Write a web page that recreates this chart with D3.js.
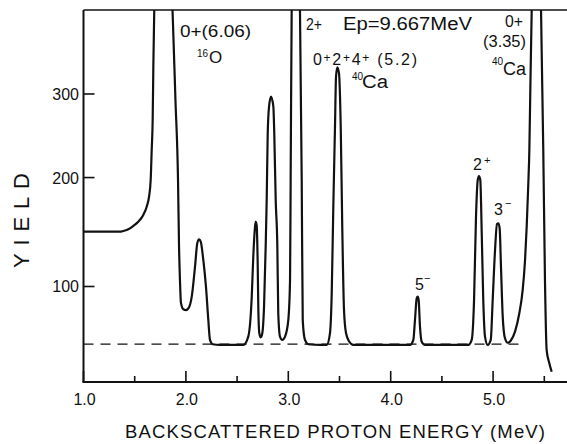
<!DOCTYPE html>
<html><head><meta charset="utf-8">
<script src="https://cdn.jsdelivr.net/npm/d3@7"></script>
<style>
html,body{margin:0;padding:0;background:#fff;}
svg{display:block;}
text{font-family:"Liberation Sans",Arial,sans-serif;fill:#111;}
</style>
</head><body>
<svg id="c" width="567" height="444"></svg>
<script>
// Backscattered proton energy (MeV)
const energy = [1.000,1.259,1.356,1.389,1.438,1.486,1.535,1.584,1.617,1.640,1.656,1.666,1.676,1.682,1.691,1.776,1.871,1.898,1.923,1.933,1.942,1.952,1.975,2.001,2.033,2.057,2.089,2.111,2.128,2.145,2.170,2.196,2.219,2.235,2.262,2.333,2.561,2.609,2.643,2.658,2.675,2.682,2.691,2.701,2.707,2.717,2.731,2.746,2.763,2.779,2.789,2.799,2.812,2.831,2.854,2.863,2.877,2.893,2.902,2.919,2.941,2.968,3.000,3.017,3.023,3.033,3.075,3.114,3.131,3.141,3.163,3.195,3.310,3.375,3.407,3.424,3.439,3.456,3.466,3.479,3.495,3.512,3.527,3.544,3.564,3.596,3.635,4.189,4.221,4.237,4.254,4.264,4.273,4.286,4.303,4.335,4.758,4.791,4.814,4.833,4.850,4.862,4.875,4.889,4.904,4.921,4.947,4.977,4.996,5.019,5.038,5.051,5.064,5.077,5.094,5.116,5.143,5.172,5.214,5.256,5.289,5.312,5.328,5.344,5.354,5.365,5.377,5.429,5.468,5.490,5.507,5.523,5.546,5.572];
// Yield (counts)
const yieldVals = [146,146,146,146.7,148.2,151.3,155.3,161.8,169.9,179.9,197.4,230.7,270.8,337.0,420.7,700,413.0,292.1,197.4,132.6,105.0,87.8,83.4,82.9,85.2,92.4,115.6,135.6,139.1,137.0,121.2,99.8,76.1,63.5,60.9,60.5,60.5,65.5,92.4,123.9,150.6,155.3,152.2,118.4,85.2,67.6,65.1,67.6,85.2,132.6,176.6,250.4,283.5,296.4,283.5,250.4,176.6,132.6,80.7,65.5,63.5,65.5,76.1,105.0,197.4,420.7,700,420.7,197.4,76.1,63.5,60.9,60.5,60.5,67.6,94.9,166.6,258.4,323.2,336.2,327.8,258.4,150.6,82.9,67.6,62.4,60.5,60.5,63.5,76.1,91.2,92.4,90.0,71.8,62.4,60.5,60.5,63.5,90.0,160.1,197.4,201.7,197.4,144.6,90.0,65.5,60.5,63.5,90.0,129.7,153.2,153.8,149.2,115.6,78.4,64.5,61.8,63.0,68.6,80.7,97.4,121.2,150.6,193.9,230.7,318.7,420.7,700,420.7,230.7,102.7,57.5,50.8,45.7];
const xMajorTicks = [1.0,2.0,3.0,4.0,5.0];
const xTickLabels = ["1.0","2.0","3.0","4.0","5.0"];
const xMinorTicks = [1.5,2.5,3.5,4.5,5.5];
const yTicks = [100,200,300];
const yTickLabels = ["100","200","300"];
const baselineYield = 61;
const baselineRange = [1.0, 5.263];

const svg = d3.select("#c");
const W = 567, H = 444;
const pL = 83.5, pR = 567, pT = 10, pB = 382;

const x = d3.scaleLinear().domain([1.0, 5.5]).range([83.5, 544.3]);
const y = d3.scaleSqrt().domain([40.56, 420.8]).range([pB, pT]);

svg.append("rect").attr("width", W).attr("height", H).attr("fill", "#fff");

svg.append("defs").append("clipPath").attr("id", "clip")
  .append("rect").attr("x", pL).attr("y", pT).attr("width", pR - pL).attr("height", pB - pT);

const ink = "#111";

// frame lines
svg.append("line").attr("x1", pL).attr("x2", pR).attr("y1", pT).attr("y2", pT)
  .attr("stroke", ink).attr("stroke-width", 1.6);
svg.append("line").attr("x1", pL).attr("x2", pL).attr("y1", pT).attr("y2", pB)
  .attr("stroke", ink).attr("stroke-width", 2);
svg.append("line").attr("x1", pL - 1).attr("x2", pR).attr("y1", pB).attr("y2", pB)
  .attr("stroke", ink).attr("stroke-width", 2);

// x ticks (inward)
svg.selectAll(".xmaj").data(xMajorTicks).enter().append("line")
  .attr("x1", d => x(d)).attr("x2", d => x(d)).attr("y1", pB).attr("y2", pB - 11)
  .attr("stroke", ink).attr("stroke-width", 1.6);
svg.selectAll(".xmin").data(xMinorTicks).enter().append("line")
  .attr("x1", d => x(d)).attr("x2", d => x(d)).attr("y1", pB).attr("y2", pB - 6)
  .attr("stroke", ink).attr("stroke-width", 1.6);
svg.selectAll(".xlab").data(xMajorTicks).enter().append("text")
  .attr("x", d => x(d) + 1).attr("y", 405).attr("text-anchor", "middle")
  .attr("font-size", 16).text((d, i) => xTickLabels[i]);

// y ticks (inward)
svg.selectAll(".ytk").data(yTicks).enter().append("line")
  .attr("x1", pL).attr("x2", pL + 11).attr("y1", d => y(d)).attr("y2", d => y(d))
  .attr("stroke", ink).attr("stroke-width", 1.6);
svg.selectAll(".ylab").data(yTicks).enter().append("text")
  .attr("x", 79).attr("y", d => y(d) + 6).attr("text-anchor", "end")
  .attr("font-size", 16).text((d, i) => yTickLabels[i]);

// axis titles
svg.append("text").attr("x", 125).attr("y", 438).attr("font-size", 18.5)
  .attr("textLength", 420).attr("lengthAdjust", "spacing")
  .text("BACKSCATTERED  PROTON  ENERGY  (MeV)");
svg.append("text").attr("transform", "translate(29,268) rotate(-90)")
  .attr("font-size", 22).attr("textLength", 95).attr("lengthAdjust", "spacing")
  .text("YIELD");

// dashed background line
svg.append("line")
  .attr("x1", x(baselineRange[0])).attr("x2", x(baselineRange[1]))
  .attr("y1", y(baselineYield)).attr("y2", y(baselineYield))
  .attr("stroke", ink).attr("stroke-width", 1.4).attr("stroke-dasharray", "10,7");

// spectrum
const pts = energy.map((e, i) => [e, yieldVals[i]]);
const line = d3.line().x(d => x(d[0])).y(d => y(d[1])).curve(d3.curveMonotoneX);
svg.append("path").attr("d", line(pts)).attr("clip-path", "url(#clip)")
  .attr("fill", "none").attr("stroke", ink).attr("stroke-width", 2.2)
  .attr("stroke-linejoin", "round");

// annotations
function txt(xp, yp, s, fs, tl) {
  const t = svg.append("text").attr("x", xp).attr("y", yp).attr("font-size", fs).text(s);
  if (tl) t.attr("textLength", tl).attr("lengthAdjust", "spacingAndGlyphs");
  return t;
}
txt(180, 37, "0+(6.06)", 16, 71);
txt(197, 57, "16", 10);
txt(209, 63, "O", 17);
txt(306, 30, "2+", 17, 16);
txt(343, 30, "Ep=9.667MeV", 18, 129);
// 0+ 2+ 4+ (5.2)
const t4 = svg.append("text").attr("x", 313).attr("y", 65).attr("font-size", 16);
[["0",0],["+",1],["2",0],["+",1],["4",0],["+",1],[" (5.2)",0]].forEach(([s, sup]) => {
  t4.append("tspan").attr("font-size", sup ? 12 : 16).attr("baseline-shift", sup ? "3" : "0").text(s);
});
t4.attr("textLength", 104).attr("lengthAdjust", "spacing");
txt(352, 80, "40", 10);
txt(362, 88, "Ca", 18, 26);
txt(505, 27, "0+", 16, 18);
txt(483, 47, "(3.35)", 16, 43);
txt(492, 65, "40", 10);
txt(503, 75, "Ca", 18, 23);
txt(415, 290, "5", 16);
txt(424, 282, "\u2212", 11);
txt(473, 170, "2", 16);
txt(484, 164, "+", 11);
txt(494, 215, "3", 16);
txt(505, 207, "\u2212", 11);
</script>
</body></html>
